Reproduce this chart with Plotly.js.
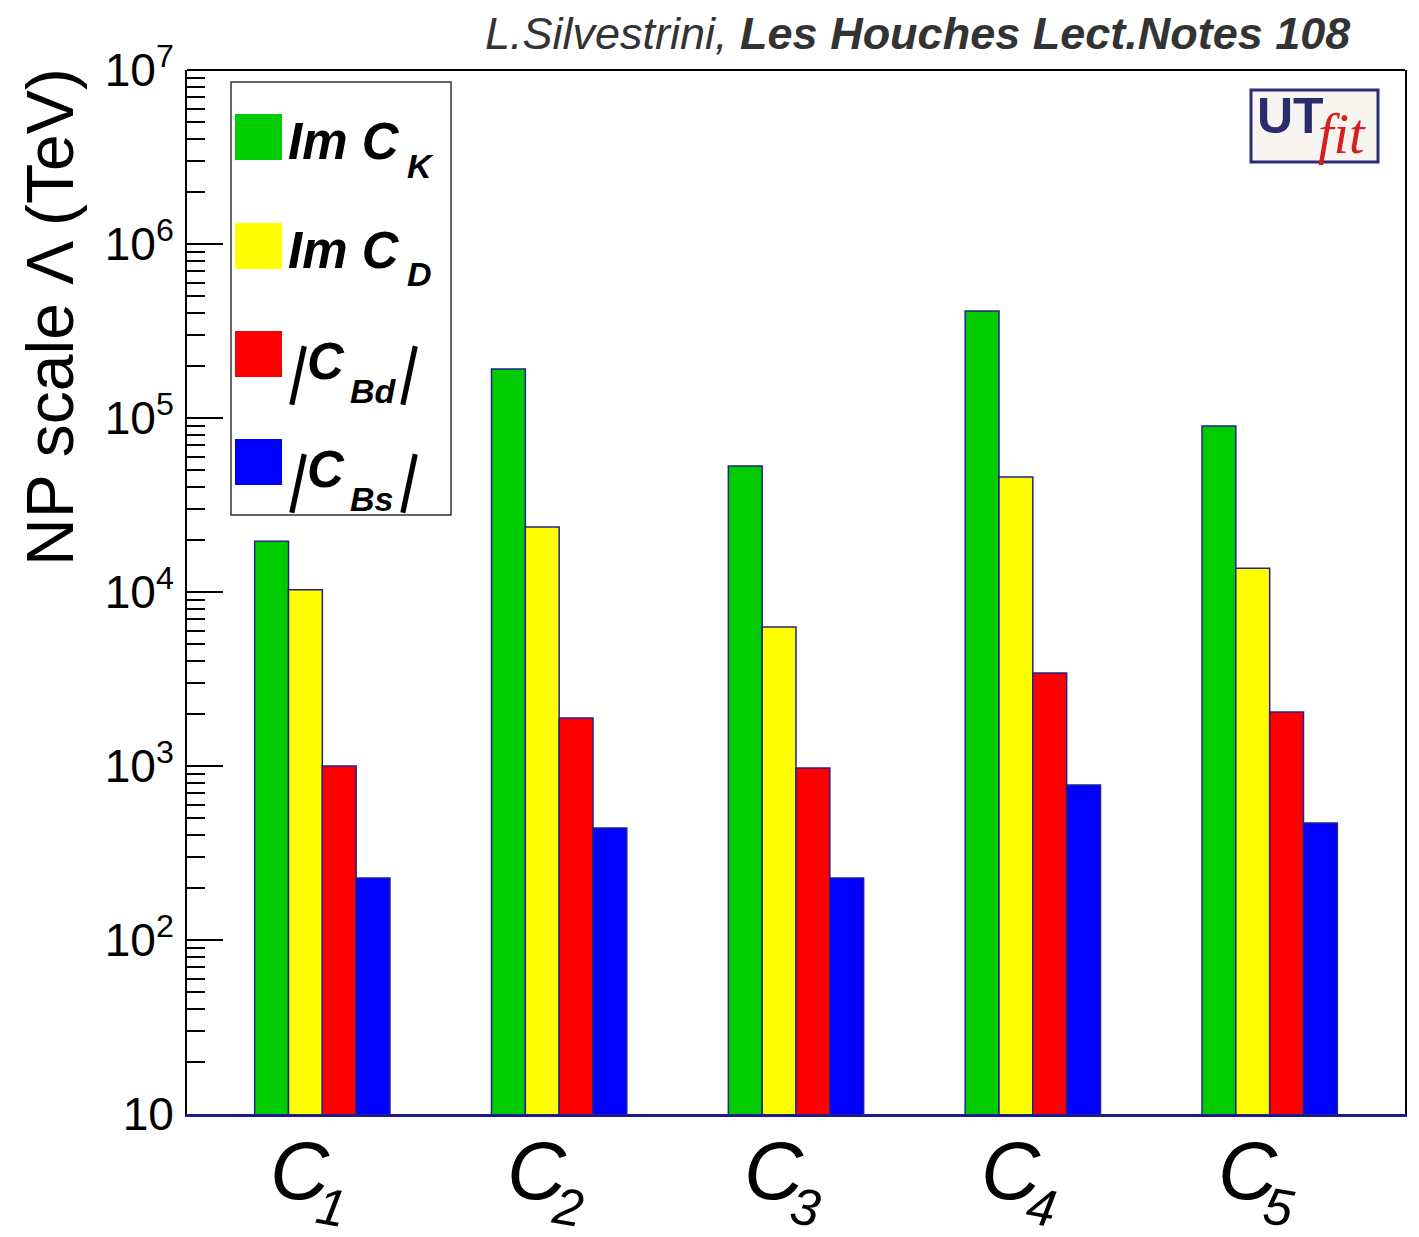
<!DOCTYPE html>
<html>
<head>
<meta charset="utf-8">
<script src="https://cdn.plot.ly/plotly-3.0.1.min.js"></script>
<style>
  html, body { margin: 0; padding: 0; background: #ffffff; }
  #chart { width: 1419px; height: 1237px; }
</style>
</head>
<body>
<div id="chart"></div>
<script>
// ---- data ----
const categories = ['C1', 'C2', 'C3', 'C4', 'C5'];
const categoryMain = ['C', 'C', 'C', 'C', 'C'];
const categorySub = ['1', '2', '3', '4', '5'];
const seriesNames = ['Im C_K', 'Im C_D', '|C_Bd|', '|C_Bs|'];
const legendMain = ['Im C', 'Im C', 'C', 'C'];
const legendSub = ['K', 'D', 'Bd', 'Bs'];
const legendBars = [false, false, true, true];
const imCK = [19600, 191000, 53000, 412000, 90000];
const imCD = [10300, 23600, 6300, 45800, 13700];
const absCBd = [1000, 1890, 975, 3420, 2040];
const absCBs = [227, 440, 227, 778, 470];
const yTickVals = [10, 100, 1000, 10000, 100000, 1000000, 10000000];
const yTickText = ['10', '10<sup>2</sup>', '10<sup>3</sup>', '10<sup>4</sup>', '10<sup>5</sup>', '10<sup>6</sup>', '10<sup>7</sup>'];

// ---- style ----
const colors = ['#00cc00', '#ffff00', '#ff0000', '#0000ff'];
const outline = '#22228a';
const seriesValues = [imCK, imCD, absCBd, absCBs];
const SANS = 'Liberation Sans, Arial, sans-serif';

// plot area in pixels (for placing decorations)
const W = 1419, H = 1237;
const L = 187, R = 1405, T = 70, B = 1114;
const px = x => (x - L) / (R - L);
const py = y => (B - y) / (B - T);

const traces = seriesValues.map((vals, i) => ({
  type: 'bar',
  name: seriesNames[i],
  x: categories,
  y: vals,
  marker: { color: colors[i], line: { color: outline, width: 1.5 } },
  showlegend: false,
  hoverinfo: 'skip'
}));

// minor tick positions (2..9 per decade)
const minorVals = [];
for (let e = 1; e < 7; e++) for (let m = 2; m <= 9; m++) minorVals.push(m * Math.pow(10, e));

const shapes = [
  { type: 'line', xref: 'paper', yref: 'paper', x0: 0, x1: 1, y0: 1, y1: 1, line: { color: '#000', width: 2 } },
  { type: 'rect', xref: 'paper', yref: 'paper', x0: px(231), x1: px(451), y0: py(515), y1: py(82),
    line: { color: '#333', width: 1.5 }, fillcolor: '#ffffff' },
  { type: 'rect', xref: 'paper', yref: 'paper', x0: px(1251), x1: px(1378), y0: py(162), y1: py(90),
    line: { color: '#2b2b7a', width: 3 }, fillcolor: '#f8f5f0' }
];

const annotations = [];
const ann = (x, y, text, size, opts) => Object.assign({
  xref: 'paper', yref: 'paper', x: px(x), y: py(y), xanchor: 'left', yanchor: 'middle',
  text: text, showarrow: false, font: { family: SANS, size: size, color: '#000' }
}, opts || {});

// legend rows
const squareTops = [114, 223, 331, 439];
const mainCenters = [141, 250, 361, 469];
const subCenters = [166, 274, 391, 499];
squareTops.forEach((t, i) => {
  shapes.push({ type: 'rect', xref: 'paper', yref: 'paper', x0: px(235), x1: px(282), y0: py(t + 46), y1: py(t),
    line: { width: 0 }, fillcolor: colors[i] });
  if (legendBars[i]) {
    annotations.push(ann(281, mainCenters[i] + 9, '|', 64, { textangle: 12 }));
    annotations.push(ann(305, mainCenters[i], '<b><i>' + legendMain[i] + '</i></b>', 51));
    annotations.push(ann(348, subCenters[i], '<b><i>' + legendSub[i] + '</i></b>', 34));
    annotations.push(ann(392, mainCenters[i] + 9, '|', 64, { textangle: 12 }));
  } else {
    annotations.push(ann(286, mainCenters[i], '<b><i>' + legendMain[i] + '</i></b>', 51));
    annotations.push(ann(405, subCenters[i], '<b><i>' + legendSub[i] + '</i></b>', 34));
  }
});

// category labels
categories.forEach((c, i) => {
  annotations.push({ xref: 'x', yref: 'paper', x: c, y: py(1170), xanchor: 'center', yanchor: 'middle', xshift: -22,
    showarrow: false, text: '<i>' + categoryMain[i] + '</i>', font: { family: SANS, size: 82, color: '#000' } });
  annotations.push({ xref: 'x', yref: 'paper', x: c, y: py(1207), xanchor: 'center', yanchor: 'middle', xshift: 9,
    textangle: 10, showarrow: false, text: '<i>' + categorySub[i] + '</i>', font: { family: SANS, size: 52, color: '#000' } });
});

annotations.push(
  { xref: 'paper', yref: 'paper', x: px(1352), y: py(33), xanchor: 'right', yanchor: 'middle', showarrow: false,
    text: '<i>L.Silvestrini, </i><b><i>Les Houches Lect.Notes 108</i></b>',
    font: { family: SANS, size: 45, color: '#333333' } },
  { xref: 'paper', yref: 'paper', x: px(50), y: py(66), xanchor: 'center', yanchor: 'top', showarrow: false,
    textangle: -90, text: 'NP scale Λ (TeV)',
    font: { family: SANS, size: 66, color: '#000' } },
  { xref: 'paper', yref: 'paper', x: px(1255), y: py(116), xanchor: 'left', yanchor: 'middle', showarrow: false,
    text: '<b>UT</b>', font: { family: SANS, size: 50, color: '#2b2b6e' } },
  { xref: 'paper', yref: 'paper', x: px(1316), y: py(134), xanchor: 'left', yanchor: 'middle', showarrow: false,
    text: '<i>fit</i>', font: { family: 'Liberation Serif, DejaVu Serif, serif', size: 56, color: '#d42020' } }
);

const layout = {
  width: W, height: H,
  margin: { l: L, r: W - R, t: T, b: H - B, pad: 0 },
  paper_bgcolor: '#ffffff', plot_bgcolor: '#ffffff',
  barmode: 'group', bargap: 3 / 7, bargroupgap: 0,
  showlegend: false,
  xaxis: {
    type: 'category', range: [-4 / 7, 4 + 4 / 7],
    showticklabels: false,
    ticks: '', showgrid: false, zeroline: false,
    showline: true, linecolor: '#1c1c8c', linewidth: 3
  },
  yaxis: {
    type: 'log', range: [1, 7],
    tickmode: 'array', tickvals: yTickVals, ticktext: yTickText,
    ticks: 'inside', ticklen: 36, tickwidth: 2, tickcolor: '#000',
    minor: { ticks: 'inside', ticklen: 18, tickwidth: 2, tickcolor: '#000', tickmode: 'array', tickvals: minorVals, showgrid: false },
    showgrid: false, zeroline: false,
    showline: true, mirror: true, linecolor: '#000', linewidth: 2,
    tickfont: { family: SANS, size: 46, color: '#000' },
    ticklabelstandoff: 2
  },
  shapes: shapes,
  annotations: annotations
};

Plotly.newPlot('chart', traces, layout, { staticPlot: true, displayModeBar: false });
</script>
</body>
</html>
